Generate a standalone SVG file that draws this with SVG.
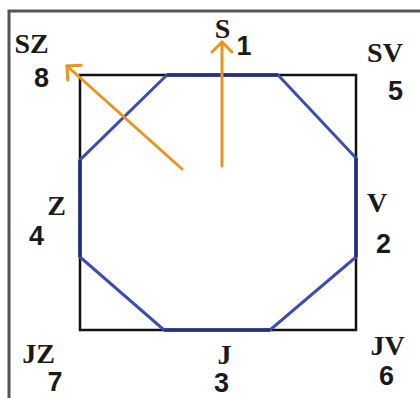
<svg xmlns="http://www.w3.org/2000/svg" width="420" height="398" viewBox="0 0 420 398">
  <style>
    .lt { font-family: "Liberation Serif", "Times New Roman", serif; font-weight: bold; font-size: 28px; fill: #1a1a1a; text-anchor: middle; }
    .dg { font-family: "Liberation Sans", Arial, sans-serif; font-weight: bold; font-size: 27px; fill: #1a1a1a; text-anchor: middle; }
    .arrow { fill: none; stroke: #E8951F; stroke-width: 3; stroke-linecap: round; }
  </style>
  <defs>
    <marker id="chev" markerUnits="userSpaceOnUse" markerWidth="30" markerHeight="30" refX="0" refY="0" viewBox="-15 -15 30 30" orient="auto" overflow="visible">
      <path d="M-10,-10 L0,0 L-10,10" fill="none" stroke="#E8951F" stroke-width="3" stroke-linecap="round" stroke-linejoin="miter"/>
    </marker>
  </defs>
  <rect x="0" y="0" width="420" height="398" fill="#ffffff"/>
  <g id="frame">
    <rect x="9" y="11" width="420" height="400" fill="none" stroke="#555555" stroke-width="3"/>
  </g>
  <g id="square">
    <rect x="80" y="75" width="276" height="255" fill="none" stroke="#111111" stroke-width="2.5"/>
  </g>
  <g id="octagon">
    <polygon points="167,75 278,75 356,158 356,257 270,330 164,330 80,257 80,160" fill="none" stroke="#3d4cb0" stroke-width="3"/>
    <path d="M167,75 L278,75 M356,158 L356,257 M270,330 L164,330 M80,257 L80,160" fill="none" stroke="#24307f" stroke-width="3.5"/>
  </g>
  <g id="connectors">
    <line class="arrow" x1="222" y1="166" x2="222" y2="42" marker-end="url(#chev)"/>
    <line class="arrow" x1="182" y1="169" x2="67" y2="66" marker-end="url(#chev)"/>
  </g>
  <g id="label-SZ"><text class="lt" x="31.5" y="53">SZ</text><text class="dg" x="41.5" y="87">8</text></g>
  <g id="label-S"><text class="lt" x="222.5" y="38">S</text><text class="dg" x="244" y="55">1</text></g>
  <g id="label-SV"><text class="lt" x="385" y="62">SV</text><text class="dg" x="395.5" y="100">5</text></g>
  <g id="label-Z"><text class="lt" x="56.5" y="215">Z</text><text class="dg" x="36.5" y="245">4</text></g>
  <g id="label-V"><text class="lt" x="377" y="212">V</text><text class="dg" x="383.5" y="253">2</text></g>
  <g id="label-JZ"><text class="lt" x="38.5" y="363">JZ</text><text class="dg" x="55" y="391">7</text></g>
  <g id="label-J"><text class="lt" x="224.5" y="364">J</text><text class="dg" x="221.5" y="392">3</text></g>
  <g id="label-JV"><text class="lt" x="387.5" y="355">JV</text><text class="dg" x="386.5" y="385">6</text></g>
</svg>
